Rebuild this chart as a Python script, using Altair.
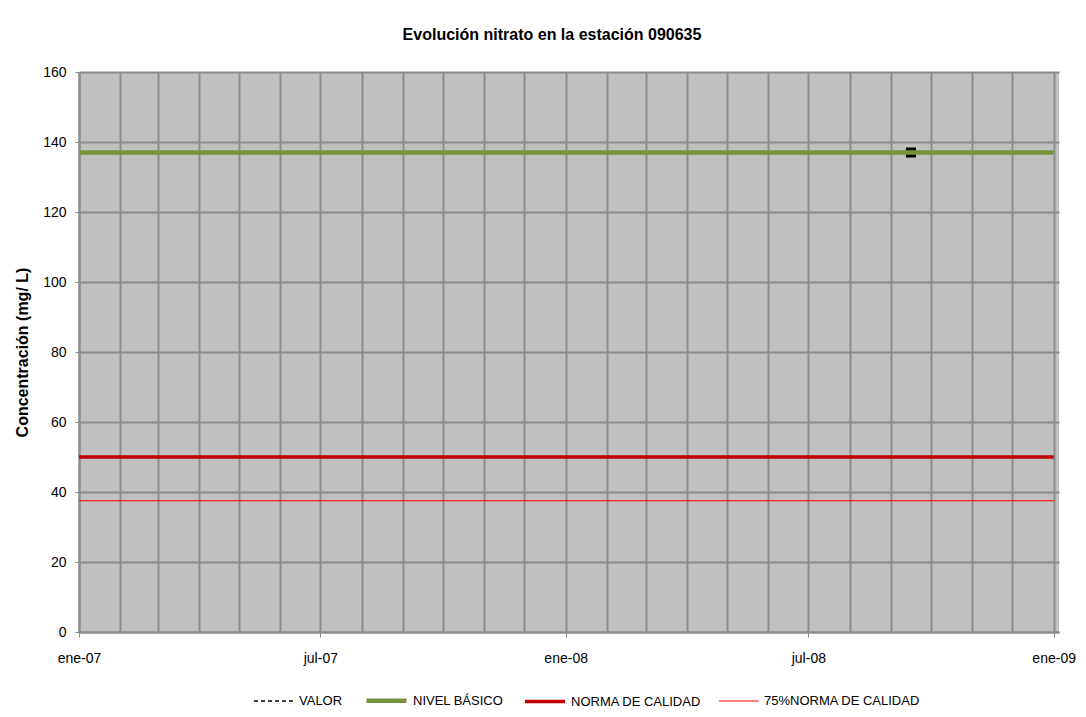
import altair as alt
import pandas as pd

# ---- data ----
series = ["VALOR", "NIVEL BÁSICO", "NORMA DE CALIDAD", "75%NORMA DE CALIDAD"]
series_colors = ["#000000", "#77933C", "#C00000", "#FF0000"]
series_dashes = [[4, 3], [1, 0], [1, 0], [1, 0]]
series_widths = [1.5, 4.5, 3.5, 1.2]

line_names = ["NIVEL BÁSICO", "NORMA DE CALIDAD", "75%NORMA DE CALIDAD"]
line_levels = [137, 50, 37.5]
line_start = "2007-01-01"
line_end = "2009-01-01"

valor_dates = ["2008-09-16"]
valor_values = [137]

y_ticks = [0, 20, 40, 60, 80, 100, 120, 140, 160]
month_short = {0: "ene", 6: "jul"}

# ---- tables ----
rows = []
for name, lvl in zip(line_names, line_levels):
    rows.append({"serie": name, "fecha": line_start, "valor": lvl})
    rows.append({"serie": name, "fecha": line_end, "valor": lvl})
lines_df = pd.DataFrame(rows)
valor_df = pd.DataFrame({"serie": ["VALOR"] * len(valor_dates), "fecha": valor_dates, "valor": valor_values})

month_vals = [
    alt.DateTime(year=2007 + (i // 12), month=(i % 12) + 1, date=1, utc=True)
    for i in range(25)
]

label_expr = (
    f"utcmonth(datum.value) == 0 ? '{month_short[0]}-' + utcFormat(datum.value, '%y') : "
    f"(utcmonth(datum.value) == 6 ? '{month_short[6]}-' + utcFormat(datum.value, '%y') : '')"
)

x_scale = alt.Scale(
    type="utc",
    domain=[alt.DateTime(year=2007, month=1, date=1, utc=True),
            alt.DateTime(year=2009, month=1, date=5, utc=True)],
    nice=False,
)
y_scale = alt.Scale(domain=[0, 160], nice=False)

x_axis = alt.Axis(
    values=month_vals,
    labelExpr=label_expr,
    title=None,
    grid=True,
    gridColor="#8C8C8C",
    gridWidth=2,
    domainColor="#8C8C8C",
    domainWidth=2,
    tickColor="#8C8C8C",
    tickSize=5,
    tickOpacity={"condition": {"test": "utcmonth(datum.value) % 6 == 0", "value": 1}, "value": 0},
    labelFontSize=14,
    labelFont="Liberation Sans",
    labelColor="#000000",
    labelPadding=14,
    labelOverlap=False,
    labelFlush=False,
    labelBound=False,
)
y_axis = alt.Axis(
    values=y_ticks,
    title="Concentración (mg/ L)",
    titleFontSize=16,
    titleFont="Liberation Sans",
    titleFontWeight="bold",
    titleColor="#000000",
    titlePadding=12,
    grid=True,
    gridColor="#8C8C8C",
    gridWidth=2,
    domainColor="#8C8C8C",
    domainWidth=2,
    tickColor="#8C8C8C",
    tickSize=4,
    labelFontSize=14,
    labelFont="Liberation Sans",
    labelColor="#000000",
    labelPadding=9,
)

legend = alt.Legend(
    title=None,
    orient="none",
    legendX=174,
    legendY=606,
    direction="horizontal",
    symbolType="stroke",
    symbolSize=1600,
    symbolOpacity=1,
    labelFontSize=13,
    labelFont="Liberation Sans",
    labelColor="#000000",
    labelOffset=4,
    columnPadding=14,
)

points = alt.Chart(valor_df).mark_point(
    shape="square", filled=True, color="#000000", size=100, opacity=1
).encode(
    x=alt.X("fecha:T", scale=x_scale, axis=x_axis),
    y=alt.Y("valor:Q", scale=y_scale, axis=y_axis),
)

lines = alt.Chart(lines_df).mark_line(strokeCap="butt").encode(
    x=alt.X("fecha:T", scale=x_scale, axis=x_axis),
    y=alt.Y("valor:Q", scale=y_scale, axis=y_axis),
    color=alt.Color("serie:N", scale=alt.Scale(domain=series, range=series_colors), legend=legend),
    strokeWidth=alt.StrokeWidth(
        "serie:N", scale=alt.Scale(type="ordinal", domain=series, range=series_widths), legend=legend
    ),
    strokeDash=alt.StrokeDash(
        "serie:N", scale=alt.Scale(domain=series, range=series_dashes), legend=legend
    ),
    detail="serie:N",
)

chart = alt.layer(points, lines).properties(
    width=980,
    height=560,
    autosize=alt.AutoSizeParams(type="none"),
    padding={"left": 71, "top": 64, "right": 18, "bottom": 77},
    background="#FFFFFF",
    title=alt.TitleParams(
        text="Evolución nitrato en la estación 090635",
        fontSize=16,
        font="Liberation Sans",
        fontWeight="bold",
        color="#000000",
        anchor="middle",
        dx=-17,
        offset=22,
    ),
).configure_view(
    fill="#C0C0C0", stroke=None
)

chart.save("out.html", embed_options={"renderer": "svg", "actions": False})
